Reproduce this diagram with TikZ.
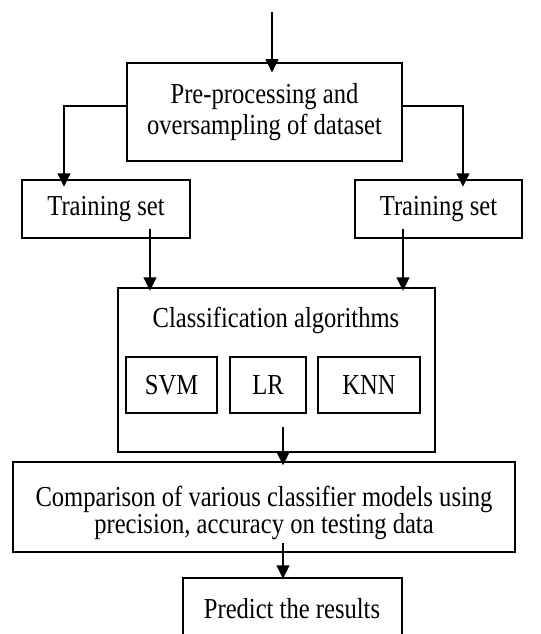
\documentclass[tikz,border=0pt]{standalone}
\usepackage{fontspec}
\setmainfont[FakeStretch=0.85]{Liberation Serif}
\usetikzlibrary{arrows.meta,fit}
\begin{document}
\begin{tikzpicture}[x=0.75pt,y=-0.75pt,
  box/.style={draw, line width=1.9pt, inner sep=0pt, align=center},
  label/.style={inner sep=0pt, align=center},
  arr/.style={line width=1.5pt, -{Triangle[width=9.5pt,length=10pt]}},
  font=\fontsize{21.7}{23}\selectfont]
\clip (0,0) rectangle (540,634);
\useasboundingbox (0,0) rectangle (540,634);

% incoming flow
\coordinate (in) at (272,12);

% boxes
\node[box, fit={(127,63) (402,161)}] (pre) {};
\node[label] (pretxt) at (pre.center) {Pre-processing and\\oversampling of dataset};

\node[box, fit={(22,180) (190,238)}] (trainL) {};
\node[label] (trainLtxt) at (trainL.center) {Training set};
\node[box, fit={(355,180) (522,238)}] (trainR) {};
\node[label] (trainRtxt) at (trainR.center) {Training set};

\node[box, fit={(118,288) (435,452)}] (cls) {};
\node[label] (clstxt) at (276,320) {Classification algorithms};
\node[box, fit={(126,357) (217,413)}] (svm) {};
\node[label] at (svm.center) (svmtxt) {SVM};
\node[box, fit={(230,357) (306,413)}] (lr) {};
\node[label] at (lr.center) (lrtxt) {LR};
\node[box, fit={(318,357) (420,413)}] (knn) {};
\node[label] at (knn.center) (knntxt) {KNN};

\node[box, fit={(13,462) (515,552)}] (comp) {};
\node[label, font=\fontsize{21.7}{20}\selectfont] (comptxt) at (264,513)
  {Comparison of various classifier models using\\precision, accuracy on testing data};

\node[box, fit={(183,578) (402,645)}] (pred) {};
\node[label] (predtxt) at (292,609) {Predict the results};

% connectors
\draw[arr, shorten >=-8pt] (in) -- (in |- pre.north);
\draw[arr, shorten >=-6pt] ([yshift=4.5pt]pre.west) -| ([xshift=-31.5pt]trainL.north);
\draw[arr, shorten >=-6pt] ([yshift=4.5pt]pre.east) -| ([xshift=18.4pt]trainR.north);
\draw[arr, shorten >=-3pt] ([xshift=33pt,yshift=8pt]trainL.south) coordinate (a1) -- (a1 |- cls.north);
\draw[arr, shorten >=-3pt] ([xshift=-26.6pt,yshift=8pt]trainR.south) coordinate (a2) -- (a2 |- cls.north);
\draw[arr, shorten >=-3.5pt] ([xshift=4.9pt,yshift=20pt]cls.south) coordinate (a3) -- (a3 |- comp.north);
\draw[arr, shorten >=-1.5pt] ([xshift=14.25pt,yshift=7.5pt]comp.south) coordinate (a4) -- (a4 |- pred.north);
\end{tikzpicture}
\end{document}
